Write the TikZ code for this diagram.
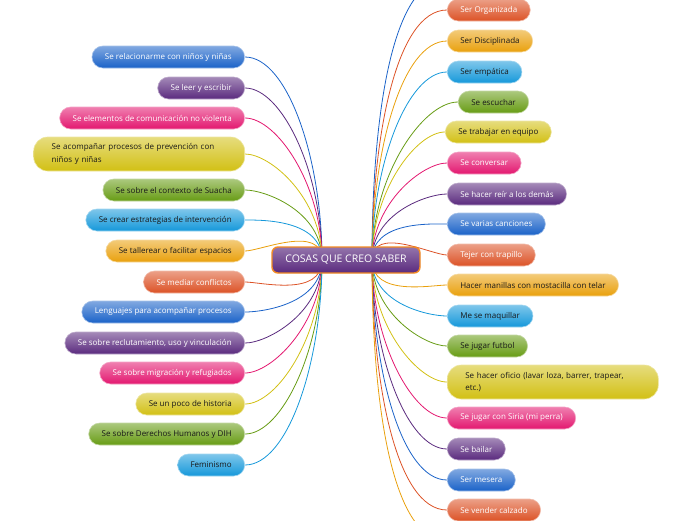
\documentclass[tikz,border=0pt]{standalone}
\usepackage{fontspec}
\setmainfont{Open Sans}
\usetikzlibrary{backgrounds}

\definecolor{mmblue}{HTML}{1A62C8}
\definecolor{mmpurple}{HTML}{5A2A7E}
\definecolor{mmpink}{HTML}{E3176F}
\definecolor{mmyellow}{HTML}{D2C014}
\definecolor{mmgreen}{HTML}{679C14}
\definecolor{mmcyan}{HTML}{1598DA}
\definecolor{mmamber}{HTML}{E9A00C}
\definecolor{mmorange}{HTML}{DC5226}
\definecolor{mmrim}{HTML}{F28A22}

\begin{document}
\begin{tikzpicture}[x=1pt,y=-1pt,
  idea/.style={top color=#1!55!white, bottom color=#1, draw=#1!40!white, line width=0.6pt,
    rounded corners=11pt, minimum height=22pt, inner xsep=13pt, inner ysep=2pt,
    font=\fontsize{8}{12.5}\selectfont},
  lt/.style={text=white},
  dk/.style={text=black!90},
  wide/.style={text width=175pt, align=left, minimum height=34pt, inner xsep=18pt, rounded corners=14pt},
  L/.style={anchor=east},
  R/.style={anchor=west},
  mainidea/.style={top color=mmpurple!65!white, bottom color=mmpurple, draw=mmrim, line width=1.4pt,
    rounded corners=6pt, minimum width=148pt, minimum height=26pt, text=white,
    font=\fontsize{10.5}{12}\selectfont},
  link/.style={draw=#1, line width=0.8pt},
  fromabove/.style={in=90, out looseness=0.5, in looseness=1.2},
  frombelow/.style={in=-90, out looseness=0.5, in looseness=1.2}]
\useasboundingbox (0,0) rectangle (696,520);

\node [mainidea] (saber) at (346,260) {COSAS QUE CREO SABER};
\coordinate (lo) at (322,260);
\coordinate (ro) at (372,260);

% lo que se, lado izquierdo
\node [idea=mmblue, lt, L] (relacion) at (245,57) {Se relacionarme con niños y niñas};
\node [idea=mmpurple, lt, L] (leer) at (245,88) {Se leer y escribir};
\node [idea=mmpink, lt, L] (comunic) at (245,118) {Se elementos de comunicación no violenta};
\node [idea=mmyellow, dk, L, wide] (prevencion) at (245,154) {Se acompañar procesos de prevención con\\niños y niñas};
\node [idea=mmgreen, dk, L] (suacha) at (245,190) {Se sobre el contexto de Suacha};
\node [idea=mmcyan, dk, L] (estrategias) at (245,220) {Se crear estrategias de intervención};
\node [idea=mmamber, dk, L] (tallerear) at (245,251) {Se tallerear o facilitar espacios};
\node [idea=mmorange, lt, L] (mediar) at (245,282) {Se mediar conflictos};
\node [idea=mmblue, lt, L] (lenguajes) at (245,312) {Lenguajes para acompañar procesos};
\node [idea=mmpurple, lt, L] (reclut) at (245,343) {Se sobre reclutamiento, uso y vinculación};
\node [idea=mmpink, lt, L] (migracion) at (245,373) {Se sobre migración y refugiados};
\node [idea=mmyellow, dk, L] (historia) at (245,404) {Se un poco de historia};
\node [idea=mmgreen, dk, L] (dih) at (245,434) {Se sobre Derechos Humanos y DIH};
\node [idea=mmcyan, dk, L] (feminismo) at (245,465) {Feminismo};

% lado derecho
\coordinate (arriba) at (447,-21);
\node [idea=mmorange, lt, R] (organizada) at (447,10) {Ser Organizada};
\node [idea=mmamber, dk, R] (disciplinada) at (447,41) {Ser Disciplinada};
\node [idea=mmcyan, dk, R] (empatica) at (447,72) {Ser empática};
\node [idea=mmgreen, dk, R] (escuchar) at (458,102) {Se escuchar};
\node [idea=mmyellow, dk, R] (equipo) at (445,132) {Se trabajar en equipo};
\node [idea=mmpink, lt, R] (conversar) at (447,163) {Se conversar};
\node [idea=mmpurple, lt, R] (reir) at (447,194) {Se hacer reír a los demás};
\node [idea=mmblue, lt, R] (canciones) at (447,224) {Se varias canciones};
\node [idea=mmorange, lt, R] (trapillo) at (447,255) {Tejer con trapillo};
\node [idea=mmamber, dk, R] (manillas) at (447,285) {Hacer manillas con mostacilla con telar};
\node [idea=mmcyan, dk, R] (maquillar) at (447,316) {Me se maquillar};
\node [idea=mmgreen, dk, R] (futbol) at (447,346) {Se jugar futbol};
\node [idea=mmyellow, dk, R, wide] (oficio) at (447,382) {Se hacer oficio (lavar loza, barrer, trapear,\\etc.)};
\node [idea=mmpink, lt, R] (siria) at (447,418) {Se jugar con Siria (mi perra)};
\node [idea=mmpurple, lt, R] (bailar) at (447,449) {Se bailar};
\node [idea=mmblue, lt, R] (mesera) at (447,480) {Ser mesera};
\node [idea=mmorange, lt, R] (calzado) at (447,510) {Se vender calzado};
\coordinate (abajo) at (447,541);

\begin{scope}[on background layer]
% ramas izquierda
\draw [link=mmblue] (relacion.east) to[out=0, fromabove] (lo);
\draw [link=mmpurple] (leer.east) to[out=0, fromabove] (lo);
\draw [link=mmpink] (comunic.east) to[out=0, fromabove] (lo);
\draw [link=mmyellow] (prevencion.east) to[out=0, fromabove] (lo);
\draw [link=mmgreen] (suacha.east) to[out=0, fromabove] (lo);
\draw [link=mmcyan] (estrategias.east) to[out=0, fromabove] (lo);
\draw [link=mmamber] (tallerear.east) to[out=0, fromabove] (lo);
\draw [link=mmorange] (mediar.east) to[out=0, frombelow] (lo);
\draw [link=mmblue] (lenguajes.east) to[out=0, frombelow] (lo);
\draw [link=mmpurple] (reclut.east) to[out=0, frombelow] (lo);
\draw [link=mmpink] (migracion.east) to[out=0, frombelow] (lo);
\draw [link=mmyellow] (historia.east) to[out=0, frombelow] (lo);
\draw [link=mmgreen] (dih.east) to[out=0, frombelow] (lo);
\draw [link=mmcyan] (feminismo.east) to[out=0, frombelow] (lo);
% ramas derecha
\draw [link=mmblue] (arriba) to[out=180, fromabove] (ro);
\draw [link=mmorange] (organizada.west) to[out=180, fromabove] (ro);
\draw [link=mmamber] (disciplinada.west) to[out=180, fromabove] (ro);
\draw [link=mmcyan] (empatica.west) to[out=180, fromabove] (ro);
\draw [link=mmgreen] (escuchar.west) to[out=180, fromabove] (ro);
\draw [link=mmyellow] (equipo.west) to[out=180, fromabove] (ro);
\draw [link=mmpink] (conversar.west) to[out=180, fromabove] (ro);
\draw [link=mmpurple] (reir.west) to[out=180, fromabove] (ro);
\draw [link=mmblue] (canciones.west) to[out=180, fromabove] (ro);
\draw [link=mmorange] (trapillo.west) to[out=180, fromabove] (ro);
\draw [link=mmamber] (manillas.west) to[out=180, frombelow] (ro);
\draw [link=mmcyan] (maquillar.west) to[out=180, frombelow] (ro);
\draw [link=mmgreen] (futbol.west) to[out=180, frombelow] (ro);
\draw [link=mmyellow] (oficio.west) to[out=180, frombelow] (ro);
\draw [link=mmpink] (siria.west) to[out=180, frombelow] (ro);
\draw [link=mmpurple] (bailar.west) to[out=180, frombelow] (ro);
\draw [link=mmblue] (mesera.west) to[out=180, frombelow] (ro);
\draw [link=mmorange] (calzado.west) to[out=180, frombelow] (ro);
\draw [link=mmamber] (abajo) to[out=180, frombelow] (ro);
\end{scope}
\end{tikzpicture}
\end{document}
